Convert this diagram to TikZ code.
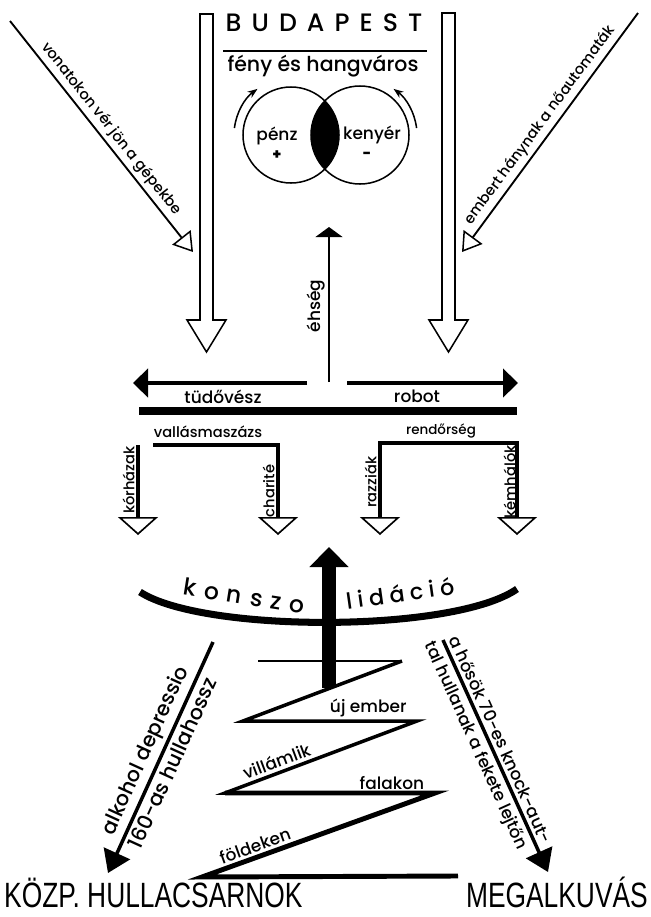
\documentclass[tikz,border=0pt]{standalone}
\usepackage{fontspec}
\setmainfont{Poppins}[UprightFont=* Medium]
\newfontfamily\condfont[FakeStretch=0.75]{Liberation Sans}
\usetikzlibrary{arrows.meta, calc}

\begin{document}
\begin{tikzpicture}[x=0.3mm, y=-0.3mm,
  lblS/.style={font=\fontsize{12.5}{14}\selectfont, inner sep=1pt},
  lblM/.style={font=\fontsize{14.5}{16}\selectfont, inner sep=1pt},
  lblL/.style={font=\fontsize{17.5}{19}\selectfont, inner sep=1pt},
  hollowarrow/.style={draw, line width=1.3pt, fill=white, line join=miter},
  thinline/.style={line width=1.6pt},
  openhead/.style={-{Triangle[open, length=5.6mm, width=7mm, line width=1.3pt]}},
  tier/.style={line width=3pt},
  tierend/.style={-{Triangle[open, length=5.4mm, width=12mm, line width=1.4pt]}},
  tierboth/.style={{Triangle[open, length=5.4mm, width=12mm, line width=1.4pt]}-{Triangle[open, length=5.4mm, width=12mm, line width=1.4pt]}},
  bigtext/.style={font=\condfont\fontsize{30}{32}\selectfont, inner sep=0pt}]
  \useasboundingbox (0,0) rectangle (651,917);

  % title
  \node[font=\fontsize{21.5}{23}\selectfont\addfontfeature{LetterSpace=40}] (city) at (324,23) {BUDAPEST};
  \draw[line width=1.7pt] (223,51) -- (427,51);
  \node[lblL] (slogan) at (323,66) {fény és hangváros};

  % money and bread
  \coordinate (penzc) at (291,135);
  \coordinate (kenyc) at (360,135);
  \begin{scope}
    \clip (penzc) circle[radius=48];
    \fill (kenyc) circle[radius=49];
  \end{scope}
  \draw[line width=1.3pt] (penzc) circle[radius=48] (kenyc) circle[radius=49];
  \draw[line width=1.3pt, -{Stealth[length=3mm, width=2.2mm]}]
    ([shift={(187:57)}]penzc) arc[start angle=187, end angle=234, radius=57];
  \draw[line width=1.3pt, -{Stealth[length=3mm, width=2.2mm]}]
    ([shift={(-7:57)}]kenyc) arc[start angle=-7, end angle=-54, radius=57];
  \node[lblM] (penz) at (277,136) {pénz};
  \node[lblS] (plus) at (277,155) {\textbf{+}};
  \node[lblM] (kenyer) at (372,135) {kenyér};
  \node[lblS] (minus) at (367,155) {\textbf{-}};

  % the two big hollow arrows
  \foreach \ax/\ay in {206.5/14, 448.5/13}
    \draw[hollowarrow] (\ax-6.5,\ay) -- (\ax+6.5,\ay) -- (\ax+6.5,320) -- (\ax+19.5,320)
      -- (\ax,352) -- (\ax-19.5,320) -- (\ax-6.5,320) -- cycle;

  % diagonal inflows
  \coordinate (tl0) at (10,21);
  \coordinate (tl1) at (193,252);
  \draw[thinline, openhead] (tl0) -- (tl1)
    node[lblS, pos=0.5, sloped, above=2pt] (vonat) {vonatokon vér jön a gépekbe};
  \coordinate (tr0) at (638,13);
  \coordinate (tr1) at (462,252);
  \draw[thinline, openhead] (tr0) -- (tr1)
    node[lblS, pos=0.5, sloped, above=2pt] (embert) {embert hánynak a nőautomaták};

  % hunger
  \coordinate (eh0) at (329,382);
  \coordinate (eh1) at (329,227);
  \draw[line width=2.1pt, -{Triangle[length=3mm, width=8mm]}] (eh0) -- (eh1)
    node[lblM, pos=0.49, sloped, above=1pt] (ehseg) {éhség};

  % sideways
  \coordinate (tu0) at (307,383);
  \coordinate (tu1) at (133,383);
  \coordinate (ro0) at (347,383);
  \coordinate (ro1) at (518,383);
  \draw[line width=3pt, -{Triangle[length=4.5mm, width=8.5mm]}] (tu0) -- (tu1);
  \draw[line width=3pt, -{Triangle[length=4.5mm, width=8.5mm]}] (ro0) -- (ro1);
  \node[lblM] (tudo) at (223,397) {tüdővész};
  \node[lblM] (robot) at (417,396) {robot};
  \draw[line width=6pt] (139,411) -- (517,411);

  % second tier
  \coordinate (kh0) at (138,445);
  \coordinate (kh1) at (138,535);
  \draw[tier, tierend] (kh0) -- (kh1);
  \coordinate (va0) at (153,445);
  \coordinate (ch1) at (278,535);
  \draw[tier, tierend] (va0) -| (ch1);
  \coordinate (rz0) at (380,535);
  \coordinate (rzt) at (380,443);
  \coordinate (kmt) at (517,443);
  \coordinate (km1) at (517,535);
  \draw[tier, tierboth] (rz0) -- (rzt) -- (kmt) -- (km1);
  \node[lblS] (vallas) at (208,432) {vallásmaszázs};
  \node[lblS, font=\fontsize{11.5}{13}\selectfont] (rendor) at (441,431) {rendőrség};
  \node[lblS, rotate=90, anchor=south] (korhaz) at (136,480) {kórházak};
  \node[lblS, rotate=90, anchor=south] (charite) at (276,491) {charité};
  \node[lblS, rotate=90, anchor=south] (razzia) at (378,482) {razziák};
  \node[lblS, rotate=90, anchor=south] (kemhalo) at (517,482) {kémhálók};

  % consolidation
  \coordinate (ko0) at (140,592);
  \coordinate (ko1) at (517,589);
  \draw[line width=6pt] (ko0) .. controls (203,633) and (454,633) .. (ko1);
  \node[lblL, rotate=-9, font=\fontsize{20}{21}\selectfont\addfontfeature{LetterSpace=35}] (konszo) at (244,596) {konszo};
  \node[lblL, rotate=8, font=\fontsize{19}{20}\selectfont\addfontfeature{LetterSpace=25}] (lidacio) at (400,593) {lidáció};

  \coordinate (up0) at (329,688);
  \coordinate (up1) at (329,547);
  \draw[line width=4.2mm, -{Triangle[length=6mm, width=11.4mm]}] (up0) -- (up1);

  % zigzag
  \coordinate (z1) at (258,661);
  \coordinate (z2) at (402,661);
  \coordinate (z3) at (243,721);
  \coordinate (z4) at (417,721);
  \coordinate (z5) at (225,793);
  \coordinate (z6) at (435,793);
  \coordinate (z7) at (202,877);
  \coordinate (z8) at (458,876);
  \draw[line width=1.8pt] (z1) -- (z2);
  \draw[line width=3pt, line join=miter] (z2) -- (z3) -- (z4) -- (z5) -- (z6);
  \draw[line width=4.2pt, line join=miter] (z5) -- (z6) -- (z7) -- (z8);
  \path (z3) -- (z4) node[lblM, pos=0.72, above=2pt] (ujember) {új ember};
  \path (z4) -- (z5) node[lblM, pos=0.71, sloped, above=3pt] (villam) {villámlik};
  \path (z5) -- (z6) node[lblM, pos=0.795, above=2pt] (falak) {falakon};
  \path (z6) -- (z7) node[lblM, pos=0.756, sloped, above=3pt] (fold) {földeken};

  % the two ways out
  \coordinate (al0) at (213,642);
  \coordinate (al1) at (108,873);
  \draw[line width=3pt, -{Triangle[length=6.5mm, width=8.5mm]}] (al0) -- (al1)
    node[lblL, pos=0.5, sloped, above=2pt] (alk) {alkohol depressio}
    node[lblL, pos=0.5, sloped, below=2pt] (hossz) {160-as hullahossz};
  \coordinate (ar0) at (443,640);
  \coordinate (ar1) at (548,872);
  \draw[line width=3pt, -{Triangle[length=6.5mm, width=8.5mm]}] (ar0) -- (ar1)
    node[lblM, pos=0.45, sloped, above=2pt] (hosok) {a hősök 70-es knock-aut-}
    node[lblM, pos=0.43, sloped, below=2pt] (lejto) {tal hullanak a fekete lejtőn};

  \node[bigtext, anchor=base west] (hulla) at (4,907) {KÖZP. HULLACSARNOK};
  \node[bigtext, anchor=base east] (megalk) at (648,907) {MEGALKUVÁS};
\end{tikzpicture}
\end{document}
